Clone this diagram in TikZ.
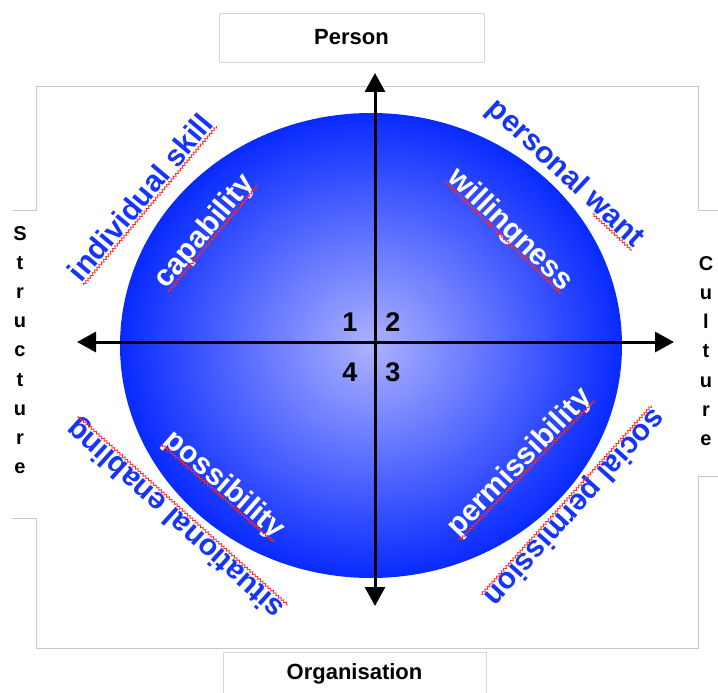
\documentclass[tikz,border=0pt]{standalone}
\usepackage{fontspec}
\setmainfont{Liberation Sans}
\usetikzlibrary{arrows.meta, calc, decorations.pathmorphing}

\definecolor{framegray}{RGB}{200,200,200}
\definecolor{boxgray}{RGB}{215,215,215}
\definecolor{wantblue}{RGB}{22,52,250}
\definecolor{rimblue}{RGB}{8,42,255}
\definecolor{coreblue}{RGB}{172,178,255}
\definecolor{spellred}{RGB}{255,40,40}

% red wavy line under a word node (optional start fraction)
\newcommand{\spellmark}[2][0]{%
  \draw[squig] ($(#2.base west)!#1!(#2.base east)!2.5pt!-90:(#2.base east)$)
    -- ($(#2.base east)!2.5pt!90:(#2.base west)$);}

\begin{document}
\begin{tikzpicture}[
      x=1pt, y=-1pt,
      every node/.style={font=\bfseries},
      labelbox/.style={draw=boxgray, line width=0.8pt, fill=white, font=\fontsize{22}{26}\selectfont\bfseries},
      outword/.style={text=wantblue, inner sep=0pt, font=\fontsize{30}{34}\selectfont\bfseries},
      inword/.style={text=white, inner sep=0pt, font=\fontsize{30}{34}\selectfont\bfseries},
      quadnum/.style={font=\fontsize{27}{30}\selectfont\bfseries},
      sidetext/.style={align=center, font=\fontsize{20}{29.2}\selectfont\bfseries},
      axis/.style={{Triangle[width=20pt,length=19pt]}-{Triangle[width=20pt,length=19pt]}, line width=3pt},
      frame/.style={draw=framegray, line width=0.8pt},
      squig/.style={draw=spellred, line width=0.8pt, decorate, decoration={zigzag, amplitude=1.2pt, segment length=3.5pt}}
      ]
      \useasboundingbox (0,0) rectangle (718,693);
      \clip (0,0) rectangle (718,693);

      % Frame
      \draw[frame] (12,210) -- (36,210) -- (36,86) -- (698,86) -- (698,210) -- (718,210);
      \draw[frame] (12,518) -- (36,518) -- (36,648) -- (698,648) -- (698,476) -- (718,476);

      % Labels round the frame
      \node[labelbox, minimum width=265pt, minimum height=49pt] (person) at (351.5,37.5) {Person};
      \node[labelbox, minimum width=263pt, minimum height=42pt, anchor=north] (organisation) at (354.5,652) {Organisation};
      \node[sidetext] (structure) at (20,350) {S\\t\\r\\u\\c\\t\\u\\r\\e};
      \node[sidetext] (culture) at (706,351) {C\\u\\l\\t\\u\\r\\e};

      % Circle
      \shade[inner color=coreblue, outer color=rimblue] (371,345.5) ellipse [x radius=251pt, y radius=232.5pt];

      % Axes
      \coordinate (ptop) at (375,73);
      \coordinate (pbottom) at (375,606);
      \coordinate (pleft) at (77,342);
      \coordinate (pright) at (674,342);
      \draw[axis] (pbottom) -- (ptop);
      \draw[axis] (pleft) -- (pright);

      % Quadrant numbers
      \node[quadnum] (q1) at (350,322) {1};
      \node[quadnum] (q2) at (393,322) {2};
      \node[quadnum] (q3) at (393,372) {3};
      \node[quadnum] (q4) at (350,372) {4};

      % Words
      \node[outword, rotate=50] (skill) at (140,197) {individual skill};
      \node[inword, rotate=50] (capab) at (205,232) {capability};
      \node[outword, rotate=-43] (want) at (565,174) {personal want};
      \node[inword, rotate=-44] (willing) at (510,230) {willingness};
      \node[inword, rotate=-41] (possib) at (224,485) {possibility};
      \node[outword, rotate=138] (enabling) at (176,518) {situational enabling};
      \node[inword, rotate=46] (permiss) at (520,463) {permissibility};
      \node[outword, rotate=-132] (socialperm) at (574,507) {social permission};

      \spellmark{skill}
      \spellmark{capab}
      \spellmark[0.735]{want}
      \spellmark{willing}
      \spellmark{possib}
      \spellmark{enabling}
      \spellmark{permiss}
      \spellmark{socialperm}

\end{tikzpicture}
\end{document}
